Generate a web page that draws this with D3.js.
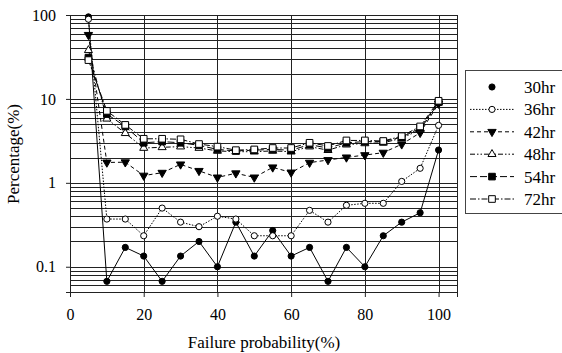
<!DOCTYPE html>
<html>
<head>
<meta charset="utf-8">
<script src="https://cdn.jsdelivr.net/npm/d3@7/dist/d3.min.js"></script>
<style>
  html, body { margin: 0; padding: 0; background: #fff; }
  svg { display: block; }
  text { font-family: "Liberation Serif", "Times New Roman", serif; fill: #000; }
</style>
</head>
<body>
<svg id="chart" width="562" height="353"></svg>
<script>
// Failure probability (%) on the x axis
const probability = [5, 10, 15, 20, 25, 30, 35, 40, 45, 50, 55, 60, 65, 70, 75, 80, 85, 90, 95, 100];

// Percentage (%) for each exposure time
const hr30 = [95, 0.067, 0.17, 0.134, 0.067, 0.134, 0.2, 0.1, 0.34, 0.134, 0.27, 0.134, 0.17, 0.067, 0.17, 0.1, 0.234, 0.34, 0.44, 2.46];
const hr36 = [89, 0.37, 0.37, 0.234, 0.5, 0.34, 0.3, 0.4, 0.37, 0.234, 0.234, 0.234, 0.47, 0.34, 0.54, 0.57, 0.57, 1.04, 1.49, 4.84];
const hr42 = [58, 1.75, 1.76, 1.22, 1.32, 1.66, 1.39, 1.16, 1.3, 1.16, 1.53, 1.33, 1.74, 1.87, 2.01, 2.14, 2.29, 2.88, 3.95, 8.8];
const hr48 = [38, 5.8, 3.9, 2.6, 2.65, 2.7, 2.6, 2.4, 2.35, 2.35, 2.4, 2.35, 2.7, 2.45, 2.85, 2.95, 3.0, 3.4, 4.3, 9.0];
const hr54 = [31, 6.6, 4.7, 3.0, 3.1, 3.0, 2.8, 2.5, 2.4, 2.45, 2.5, 2.45, 2.85, 2.6, 3.0, 3.1, 3.1, 3.5, 4.5, 9.2];
const hr72 = [29, 7.2, 4.9, 3.35, 3.35, 3.3, 2.9, 2.7, 2.45, 2.5, 2.6, 2.6, 3.0, 2.75, 3.2, 3.2, 3.15, 3.6, 4.7, 9.5];

const seriesNames = ["30hr", "36hr", "42hr", "48hr", "54hr", "72hr"];
const seriesValues = [hr30, hr36, hr42, hr48, hr54, hr72];

const xTicks = [0, 20, 40, 60, 80, 100];
const yTicks = [0.1, 1, 10, 100];
const yTickLabels = ["0.1", "1", "10", "100"];

// line and marker style per series
const styles = [
  { dash: null,              symbol: d3.symbolCircle,   fill: "#000", size: 30, legendLine: false },
  { dash: "1.5,1.5",         symbol: d3.symbolCircle,   fill: "#fff", size: 30, legendLine: true },
  { dash: "4,3",             symbol: d3.symbolTriangle, fill: "#000", size: 30, rotate: 180, legendLine: true },
  { dash: "5,2,1.5,2,1.5,2", symbol: d3.symbolTriangle, fill: "#fff", size: 28, legendLine: true },
  { dash: "7,3",             symbol: d3.symbolSquare,   fill: "#000", size: 44, legendLine: true },
  { dash: "6,2,1.5,2",       symbol: d3.symbolSquare,   fill: "#fff", size: 44, legendLine: true }
];

const svg = d3.select("#chart");
const plot = { left: 70, right: 457, top: 15, bottom: 292 };

const x = d3.scaleLinear().domain([0, 105]).range([plot.left, plot.right]);
const y = d3.scaleLog().domain([0.05, 100]).range([plot.bottom, plot.top]);

// horizontal grid at every log minor step
const minor = [];
[0.01, 0.1, 1, 10].forEach(d => {
  for (let k = 1; k <= 10; k++) {
    const v = +(d * k).toPrecision(3);
    if (v > 0.05 && v <= 100) minor.push(v);
  }
});
const uniqMinor = Array.from(new Set(minor));

const grid = svg.append("g").attr("stroke", "#222").attr("stroke-width", 1).attr("shape-rendering", "crispEdges");
grid.selectAll("line.h").data(uniqMinor).join("line")
  .attr("x1", plot.left).attr("x2", plot.right)
  .attr("y1", d => Math.round(y(d)) + 0.5).attr("y2", d => Math.round(y(d)) + 0.5);
grid.selectAll("line.v").data(xTicks.filter(d => d > 0)).join("line")
  .attr("x1", d => Math.round(x(d)) + 0.5).attr("x2", d => Math.round(x(d)) + 0.5)
  .attr("y1", plot.top).attr("y2", plot.bottom);

// plot frame
svg.append("rect")
  .attr("x", plot.left + 0.5).attr("y", Math.round(plot.top) + 0.5)
  .attr("width", plot.right - plot.left).attr("height", plot.bottom - plot.top)
  .attr("fill", "none").attr("stroke", "#222").attr("shape-rendering", "crispEdges");

// axes
const xAxis = d3.axisBottom(x).tickValues(xTicks).tickSize(5).tickPadding(12).tickFormat(d3.format("d"));
const gx = svg.append("g").attr("transform", `translate(0,${plot.bottom})`).call(xAxis);
gx.select(".domain").attr("stroke", "#222");
gx.selectAll(".tick line").attr("stroke", "#222");
gx.selectAll("text").attr("font-size", 16).attr("font-family", "Liberation Serif");

const yAxis = d3.axisLeft(y).tickValues(yTicks).tickSize(4).tickPadding(10)
  .tickFormat((d, i) => yTickLabels[i]);
const gy = svg.append("g").attr("transform", `translate(${plot.left},0)`).call(yAxis);
gy.select(".domain").attr("stroke", "#222");
gy.selectAll(".tick line").attr("stroke", "#222");
gy.selectAll("text").attr("font-size", 16).attr("font-family", "Liberation Serif");

// axis titles
svg.append("text")
  .attr("x", 264).attr("y", 348)
  .attr("text-anchor", "middle").attr("font-size", 17)
  .text("Failure probability(%)");
svg.append("text")
  .attr("transform", "translate(19,154) rotate(-90)")
  .attr("text-anchor", "middle").attr("font-size", 17)
  .text("Percentage(%)");

// series
const line = d3.line().x((d, i) => x(probability[i])).y(d => y(d));
seriesValues.forEach((vals, s) => {
  const st = styles[s];
  const g = svg.append("g");
  g.append("path").datum(vals)
    .attr("d", line)
    .attr("fill", "none").attr("stroke", "#000").attr("stroke-width", 1)
    .attr("stroke-dasharray", st.dash);
  g.selectAll("path.m").data(vals).join("path")
    .attr("class", "m")
    .attr("d", d3.symbol().type(st.symbol).size(st.size))
    .attr("transform", (d, i) => `translate(${x(probability[i])},${y(d)})` + (st.rotate ? ` rotate(${st.rotate})` : ""))
    .attr("fill", st.fill).attr("stroke", "#000").attr("stroke-width", 1);
});

// legend
const legend = svg.append("g");
legend.append("rect")
  .attr("x", 465.5).attr("y", 70.5).attr("width", 100).attr("height", 143)
  .attr("fill", "#fff").attr("stroke", "#444").attr("shape-rendering", "crispEdges");
seriesNames.forEach((name, s) => {
  const st = styles[s];
  const cy = 87 + s * 22.4;
  if (st.legendLine) {
    legend.append("line")
      .attr("x1", 470).attr("x2", 514).attr("y1", cy).attr("y2", cy)
      .attr("stroke", "#000").attr("stroke-dasharray", st.dash);
  }
  legend.append("path")
    .attr("d", d3.symbol().type(st.symbol).size(st.size))
    .attr("transform", `translate(492,${cy})` + (st.rotate ? ` rotate(${st.rotate})` : ""))
    .attr("fill", st.fill).attr("stroke", "#000");
  legend.append("text")
    .attr("x", 524).attr("y", cy).attr("dy", "0.35em")
    .attr("font-size", 17)
    .text(name);
});
</script>
</body>
</html>
